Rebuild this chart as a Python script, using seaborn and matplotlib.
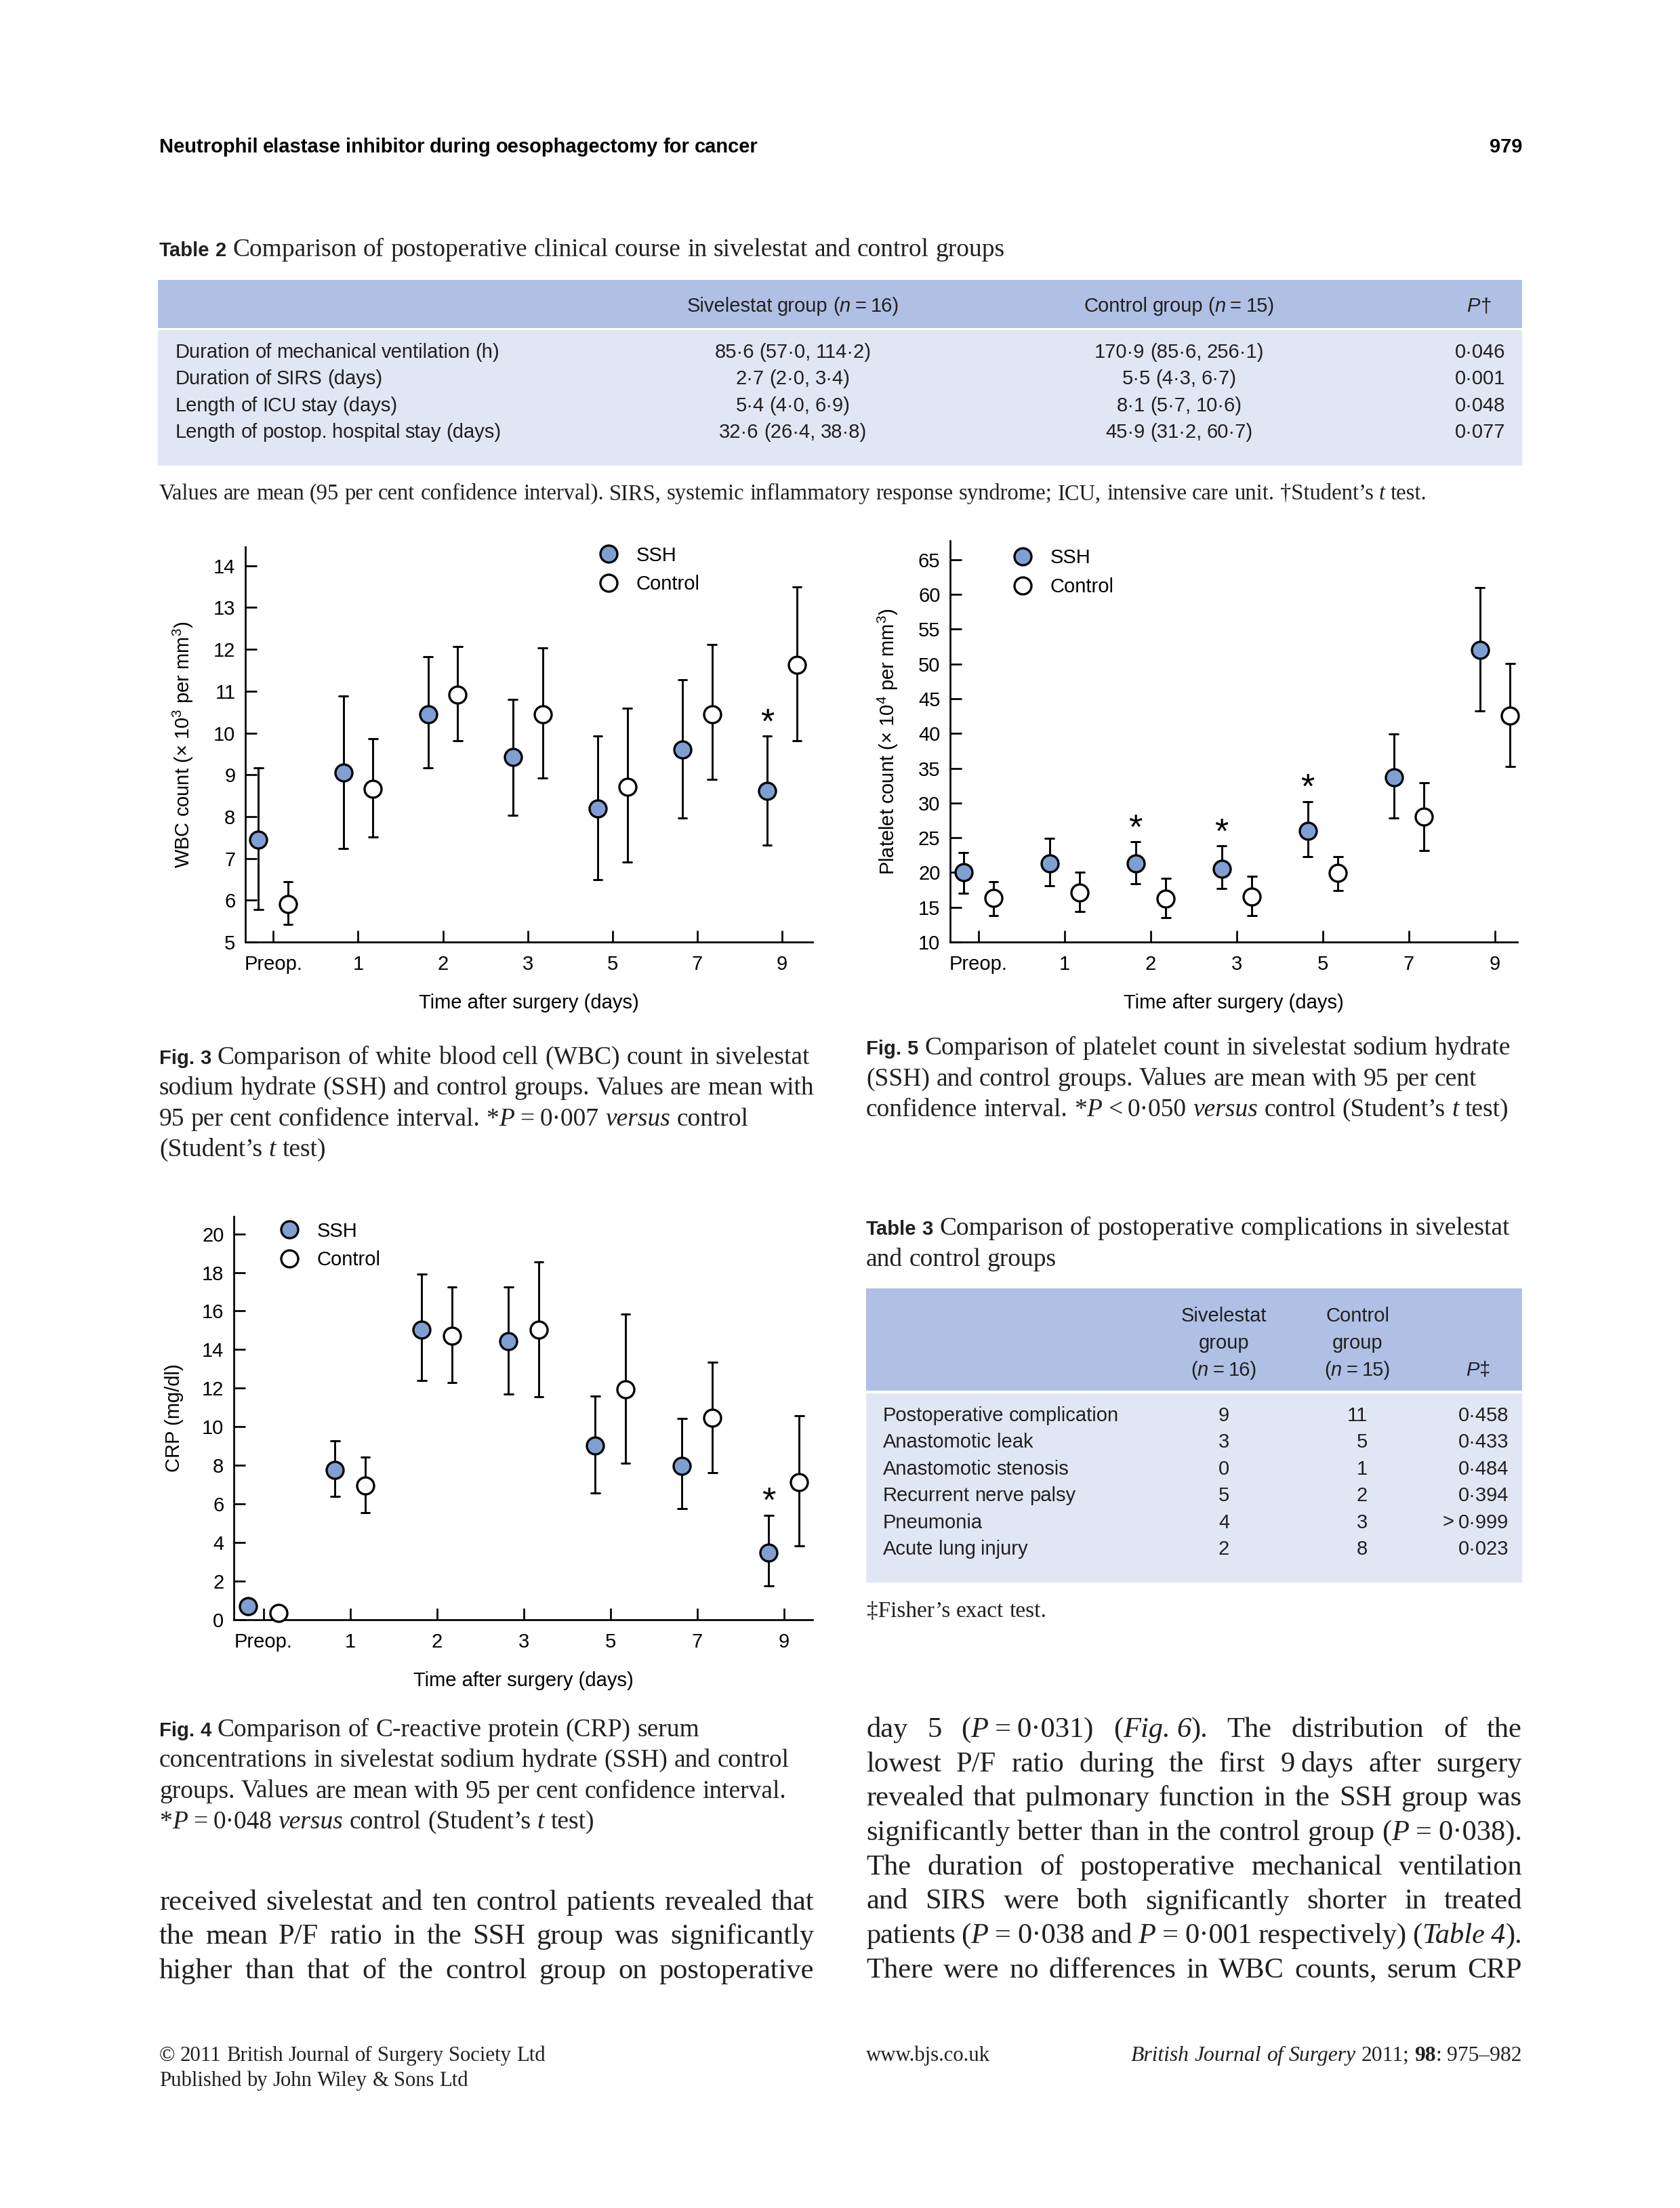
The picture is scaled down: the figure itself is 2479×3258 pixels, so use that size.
import numpy as np
import pandas as pd
import matplotlib
matplotlib.use('Agg')
import matplotlib.pyplot as plt
import seaborn as sns
from matplotlib.patches import Rectangle
from matplotlib.lines import Line2D

W, H = 2479, 3258
DPI = 300
INK = '#231f20'

# ---- data ----
days = ['Preop.', '1', '2', '3', '5', '7', '9']
groups = ['SSH', 'Control']

wbc_ssh = [7.44, 9.05, 10.44, 9.42, 8.20, 9.61, 8.61]
wbc_ssh_lo = [5.78, 7.24, 9.16, 8.03, 6.49, 7.97, 7.31]
wbc_ssh_hi = [9.16, 10.89, 11.82, 10.80, 9.93, 11.27, 9.92]
wbc_ctl = [5.90, 8.67, 10.92, 10.45, 8.71, 10.45, 11.63]
wbc_ctl_lo = [5.42, 7.52, 9.81, 8.92, 6.91, 8.89, 9.81]
wbc_ctl_hi = [6.44, 9.86, 12.06, 12.03, 10.60, 12.12, 13.49]
wbc_sig = ['9']

plt_ssh = [20.0, 21.3, 21.3, 20.5, 26.0, 33.7, 52.0]
plt_ssh_lo = [17.0, 18.1, 18.4, 17.7, 22.3, 27.8, 43.2]
plt_ssh_hi = [22.9, 24.9, 24.4, 23.8, 30.2, 39.9, 61.0]
plt_ctl = [16.3, 17.1, 16.2, 16.5, 19.9, 28.0, 42.6]
plt_ctl_lo = [13.8, 14.4, 13.5, 13.8, 17.4, 23.2, 35.2]
plt_ctl_hi = [18.7, 20.0, 19.2, 19.5, 22.3, 32.9, 50.1]
plt_sig = ['2', '3', '5']

crp_ssh = [0.69, 7.77, 15.04, 14.43, 9.01, 7.98, 3.49]
crp_ssh_lo = [0.69, 6.38, 12.41, 11.68, 6.56, 5.75, 1.76]
crp_ssh_hi = [0.69, 9.27, 17.93, 17.25, 11.58, 10.42, 5.41]
crp_ctl = [0.36, 6.95, 14.73, 15.04, 11.94, 10.48, 7.14]
crp_ctl_lo = [0.36, 5.54, 12.31, 11.55, 8.13, 7.61, 3.84]
crp_ctl_hi = [0.36, 8.42, 17.25, 18.53, 15.85, 13.34, 10.57]
crp_sig = ['9']

t2_rows = ['Duration of mechanical ventilation (h)', 'Duration of SIRS (days)',
           'Length of ICU stay (days)', 'Length of postop. hospital stay (days)']
t2_siv = ['85·6 (57·0, 114·2)', '2·7 (2·0, 3·4)', '5·4 (4·0, 6·9)', '32·6 (26·4, 38·8)']
t2_ctl = ['170·9 (85·6, 256·1)', '5·5 (4·3, 6·7)', '8·1 (5·7, 10·6)', '45·9 (31·2, 60·7)']
t2_p = ['0·046', '0·001', '0·048', '0·077']

t3_rows = ['Postoperative complication', 'Anastomotic leak', 'Anastomotic stenosis',
           'Recurrent nerve palsy', 'Pneumonia', 'Acute lung injury']
t3_siv = ['9', '3', '0', '5', '4', '2']
t3_ctl = ['11', '5', '1', '2', '3', '8']
t3_p = ['0·458', '0·433', '0·484', '0·394', '>^0·999', '0·023']

pal = {'SSH': '#7f9fd3', 'Control': 'white'}

sns.set_theme(style='ticks', rc={
    'axes.linewidth': 0.65, 'xtick.major.width': 0.65, 'ytick.major.width': 0.65,
    'xtick.direction': 'in', 'ytick.direction': 'in',
    'xtick.major.size': 4, 'ytick.major.size': 4,
    'axes.edgecolor': 'black', 'xtick.color': 'black', 'ytick.color': 'black',
    'text.color': 'black', 'axes.labelcolor': 'black'})
plt.rcParams['font.family'] = ['Liberation Sans', 'DejaVu Sans']
plt.rcParams['mathtext.default'] = 'regular'

fig = plt.figure(figsize=(W / DPI, H / DPI), dpi=DPI)
renderer = fig.canvas.get_renderer()


def long_df(m1, lo1, hi1, m2, lo2, hi2):
    rows = []
    for g, m, lo, hi in [('SSH', m1, lo1, hi1), ('Control', m2, lo2, hi2)]:
        for d, a, b, c in zip(days, lo, m, hi):
            for v in (a, b, c):
                rows.append({'day': d, 'group': g, 'value': v})
    return pd.DataFrame(rows)


def panel(rect, df, sig, hi_ssh, xlim, ylim, yticks, ylabel, leg_xy):
    x0, y0, x1, y1 = rect
    ax = fig.add_axes([x0 / W, 1 - y1 / H, (x1 - x0) / W, (y1 - y0) / H])
    sns.pointplot(data=df, x='day', y='value', hue='group', order=days, hue_order=groups,
                  palette=pal, estimator='median', errorbar=lambda v: (v.min(), v.max()),
                  dodge=0.35, linestyle='none', markers='o', capsize=0.1,
                  err_kws={'color': 'black', 'linewidth': 0.7, 'zorder': 1},
                  markersize=6, markeredgecolor='black', markeredgewidth=0.8,
                  zorder=3, clip_on=False, legend=False, ax=ax)
    ax.set_xlim(*xlim)
    ax.set_ylim(*ylim)
    ax.set_yticks(yticks)
    sns.despine(ax=ax)
    ax.tick_params(axis='x', labelsize=7, pad=4.5)
    ax.tick_params(axis='y', labelsize=7, pad=3.5)
    ax.set_xlabel('Time after surgery (days)', fontsize=7, labelpad=7)
    ax.set_ylabel(ylabel, fontsize=7, labelpad=6.5)
    for d in sig:
        i = days.index(d)
        ax.annotate('*', xy=(i - 0.175, hi_ssh[i]), xytext=(0, -1.5), textcoords='offset points',
                    ha='center', va='bottom', fontsize=12.5)
    handles = [Line2D([], [], linestyle='none', marker='o', markersize=6,
                      markerfacecolor=pal[g], markeredgecolor='black', markeredgewidth=0.8)
               for g in groups]
    ax.legend(handles, groups, loc='center left', bbox_to_anchor=leg_xy, frameon=False,
              borderpad=0, borderaxespad=0, handlelength=1.2, handletextpad=0.8,
              labelspacing=0.5, fontsize=7)
    return ax


panel((362, 807, 1199, 1390),
      long_df(wbc_ssh, wbc_ssh_lo, wbc_ssh_hi, wbc_ctl, wbc_ctl_lo, wbc_ctl_hi),
      wbc_sig, wbc_ssh_hi, (-0.33, 6.36), (5, 14.45), range(5, 15),
      'WBC count (× 10$^{3}$ per mm$^{3}$)', (0.619, 0.942))
panel((1402, 798, 2239, 1390),
      long_df(plt_ssh, plt_ssh_lo, plt_ssh_hi, plt_ctl, plt_ctl_lo, plt_ctl_hi),
      plt_sig, plt_ssh_hi, (-0.33, 6.26), (10, 67.7), range(10, 70, 5),
      'Platelet count (× 10$^{4}$ per mm$^{3}$)', (0.107, 0.921))
panel((345, 1795, 1199, 2390),
      long_df(crp_ssh, crp_ssh_lo, crp_ssh_hi, crp_ctl, crp_ctl_lo, crp_ctl_hi),
      crp_sig, crp_ssh_hi, (-0.34, 6.33), (0, 20.9), range(0, 22, 2),
      'CRP (mg/dl)', (0.0755, 0.928))


# ---- page text helpers (positions in page pixels, y down) ----
def parse(line, sans):
    words = [[]]
    it = bd = False
    sf = sans
    buf = ''
    for ch in line + ' ':
        if ch in '_~`^ ':
            if buf:
                words[-1].append((buf, it, bd, sf))
                buf = ''
            if ch == '_':
                it = not it
            elif ch == '~':
                bd = not bd
            elif ch == '`':
                sf = not sf
            elif ch == '^':
                words[-1].append(None)
            else:
                words.append([])
        else:
            buf += ch
    return [w for w in words if w]


def text_line(x, y, line, size, sans=False, align='left', x_right=None, color=INK):
    px = DPI / 72
    built = []
    for w in parse(line, sans):
        items = []
        for r in w:
            if r is None:
                items.append((None, 0.22 * size * px))
                continue
            s, it, bd, sf = r
            fs = size * 0.78 if (sf and not sans) else size
            t = fig.text(0, 0, s, fontsize=fs,
                         family='Liberation Sans' if sf else 'Liberation Serif',
                         style='italic' if it else 'normal',
                         weight='bold' if bd else 'normal', va='baseline', color=color)
            items.append((t, t.get_window_extent(renderer).width))
        built.append(items)
    ww = [sum(i[1] for i in items) for items in built]
    space = 0.25 * size * px
    total = sum(ww) + space * (len(built) - 1)
    if align == 'justify':
        space = (x_right - x - sum(ww)) / max(len(built) - 1, 1)
    elif align == 'right':
        x = x - total
    elif align == 'center':
        x = x - total / 2
    cx = x
    for items in built:
        for t, w in items:
            if t is not None:
                t.set_position((cx / W, 1 - y / H))
            cx += w
        cx += space


def band(x0, y0, x1, y1, color):
    fig.add_artist(Rectangle((x0 / W, 1 - y1 / H), (x1 - x0) / W, (y1 - y0) / H,
                             transform=fig.transFigure, facecolor=color, edgecolor='none',
                             zorder=0))


HEAD = '#afc0e4'
BODY = '#e1e6f4'

# running head
text_line(235, 225, '~Neutrophil elastase inhibitor during oesophagectomy for cancer~', 7, sans=True, color='black')
text_line(2246, 225, '~979~', 7, sans=True, align='right', color='black')

# table 2
text_line(235, 378, '`~Table^2~` Comparison of postoperative clinical course in sivelestat and control groups', 9)
band(233, 413, 2246, 484, HEAD)
band(233, 487, 2246, 687, BODY)
text_line(1170, 460, 'Sivelestat group (_n_^=^16)', 7, sans=True, align='center')
text_line(1740, 460, 'Control group (_n_^=^15)', 7, sans=True, align='center')
text_line(2200, 460, '_P_†', 7, sans=True, align='right')
for k, (a, b, c, p) in enumerate(zip(t2_rows, t2_siv, t2_ctl, t2_p)):
    yb = 528 + k * 39.3
    text_line(259, yb, a, 7, sans=True)
    text_line(1170, yb, b, 7, sans=True, align='center')
    text_line(1740, yb, c, 7, sans=True, align='center')
    text_line(2221, yb, p, 7, sans=True, align='right')
text_line(235, 737, 'Values are mean (95 per cent confidence interval). SIRS, systemic inflammatory '
          'response syndrome; ICU, intensive care unit. †Student’s _t_ test.', 7.85)

# figure captions
cap3 = ['`~Fig.^3~` Comparison of white blood cell (WBC) count in sivelestat',
        'sodium hydrate (SSH) and control groups. Values are mean with',
        '95 per cent confidence interval. *_P_^=^0·007 _versus_ control',
        '(Student’s _t_ test)']
for k, s in enumerate(cap3):
    text_line(235, 1570 + 45.3 * k, s, 9)
cap5 = ['`~Fig.^5~` Comparison of platelet count in sivelestat sodium hydrate',
        '(SSH) and control groups. Values are mean with 95 per cent',
        'confidence interval. *_P_^<^0·050 _versus_ control (Student’s _t_ test)']
for k, s in enumerate(cap5):
    text_line(1278, 1556 + 45.5 * k, s, 9)
cap4 = ['`~Fig.^4~` Comparison of C-reactive protein (CRP) serum',
        'concentrations in sivelestat sodium hydrate (SSH) and control',
        'groups. Values are mean with 95 per cent confidence interval.',
        '*_P_^=^0·048 _versus_ control (Student’s _t_ test)']
for k, s in enumerate(cap4):
    text_line(235, 2562 + 45.3 * k, s, 9)

# table 3
text_line(1278, 1822, '`~Table^3~` Comparison of postoperative complications in sivelestat', 9)
text_line(1278, 1868, 'and control groups', 9)
band(1278, 1901, 2246, 2052, HEAD)
band(1278, 2056, 2246, 2335, BODY)
for k, (a, b) in enumerate([('Sivelestat', 'Control'), ('group', 'group'),
                            ('(_n_^=^16)', '(_n_^=^15)')]):
    text_line(1806, 1950 + 40 * k, a, 7, sans=True, align='center')
    text_line(2003, 1950 + 40 * k, b, 7, sans=True, align='center')
text_line(2199, 2030, '_P_‡', 7, sans=True, align='right')
for k, (a, b, c, p) in enumerate(zip(t3_rows, t3_siv, t3_ctl, t3_p)):
    yb = 2097 + k * 39.4
    text_line(1303, yb, a, 7, sans=True)
    text_line(1806, yb, b, 7, sans=True, align='center')
    text_line(2018, yb, c, 7, sans=True, align='right')
    text_line(2226, yb, p, 7, sans=True, align='right')
text_line(1279, 2386, '‡Fisher’s exact test.', 8)

# body text
left_col = ['received sivelestat and ten control patients revealed that',
            'the mean P/F ratio in the SSH group was significantly',
            'higher than that of the control group on postoperative']
for k, s in enumerate(left_col):
    text_line(235, 2818 + 50.3 * k, s, 10.2, align='justify', x_right=1201)
right_col = ['day 5 (_P_^=^0·031) (_Fig.^6_). The distribution of the',
             'lowest P/F ratio during the first 9^days after surgery',
             'revealed that pulmonary function in the SSH group was',
             'significantly better than in the control group (_P_^=^0·038).',
             'The duration of postoperative mechanical ventilation',
             'and SIRS were both significantly shorter in treated',
             'patients (_P_^=^0·038 and _P_^=^0·001 respectively) (_Table^4_).',
             'There were no differences in WBC counts, serum CRP']
for k, s in enumerate(right_col):
    text_line(1278, 2563 + 50.7 * k, s, 10.2, align='justify', x_right=2246)

# footer
text_line(235, 3041, '© 2011 British Journal of Surgery Society Ltd', 7.4)
text_line(235, 3078, 'Published by John Wiley & Sons Ltd', 7.4)
text_line(1278, 3041, 'www.bjs.co.uk', 7.4)
text_line(2246, 3041, '_British Journal of Surgery_ 2011; ~98~: 975–982', 7.6, align='right')

fig.savefig('out.png', dpi=DPI, facecolor='white')
